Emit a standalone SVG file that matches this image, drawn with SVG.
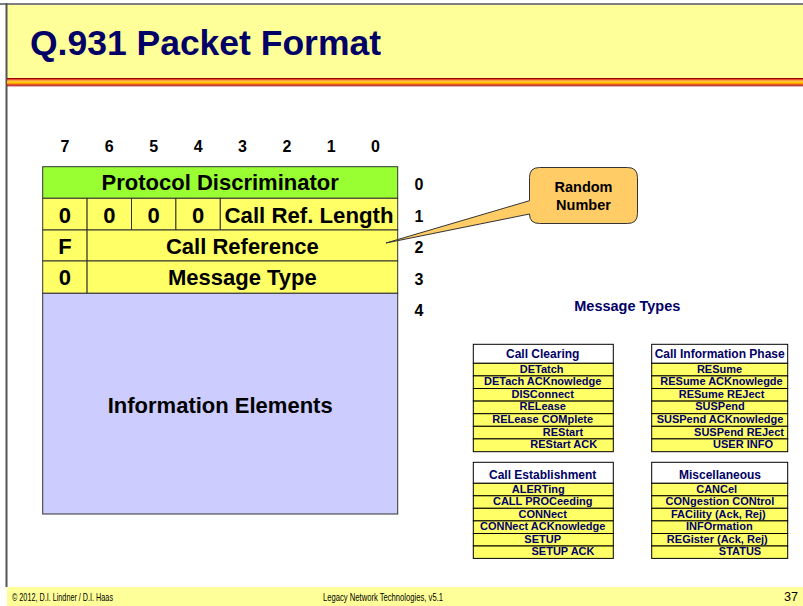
<svg xmlns="http://www.w3.org/2000/svg" width="803" height="606" viewBox="0 0 803 606">
<defs>
<style>
text{font-family:"Liberation Sans",Arial,sans-serif;font-weight:bold;}
.bit{font-size:16px;fill:#000;text-anchor:middle;}
.fld{font-size:22px;fill:#000;text-anchor:middle;}
.cell{stroke:#333;stroke-width:1;}
.grn{fill:#99FF33;}
.yel{fill:#FFFF66;}
.lav{fill:#CCCCFF;}
.mt{font-size:11px;fill:#000066;text-anchor:middle;}
.mh{font-size:12px;fill:#000066;text-anchor:middle;}
.mrow{fill:#FFFF66;stroke:#000;stroke-width:1;}
.mhead{fill:#FFFFFF;stroke:#000;stroke-width:1;}
.foot{font-family:"Liberation Sans",Arial,sans-serif;font-weight:normal;font-size:11px;fill:#000;}
</style>
</defs>

<!-- slide frame -->
<rect x="0" y="0" width="803" height="606" fill="#FFFFFF"/>
<rect x="7" y="5" width="796" height="73" fill="#FFFF99"/>
<line x1="0" y1="4" x2="803" y2="4" stroke="#555" stroke-width="1.5"/>
<line x1="6.5" y1="3" x2="6.5" y2="587" stroke="#555" stroke-width="2"/>
<rect x="7" y="78" width="796" height="1.2" fill="#990000"/>
<rect x="7" y="79.2" width="796" height="1.2" fill="#E03000"/>
<rect x="7" y="80.4" width="796" height="1.3" fill="#FF9900"/>
<rect x="7" y="81.7" width="796" height="1.3" fill="#FFCC00"/>
<rect x="7" y="83" width="796" height="1.2" fill="#FF9900"/>
<rect x="7" y="84.2" width="796" height="1.2" fill="#E03000"/>
<rect x="7" y="85.4" width="796" height="0.9" fill="#990000"/>
<text x="30" y="55" style="font-size:35px;fill:#000066;" textLength="351" lengthAdjust="spacingAndGlyphs">Q.931 Packet Format</text>

<!-- footer -->
<rect x="7" y="587" width="796" height="19" fill="#FFFF99"/>
<text class="foot" x="12" y="601" textLength="101" lengthAdjust="spacingAndGlyphs">© 2012, D.I. Lindner / D.I. Haas</text>
<text class="foot" x="323" y="601" textLength="120" lengthAdjust="spacingAndGlyphs">Legacy Network Technologies, v5.1</text>
<text class="foot" x="784" y="601" style="font-size:13px;" textLength="14" lengthAdjust="spacingAndGlyphs">37</text>

<!-- bit numbers -->
<g id="bit-numbers">
<text class="bit" x="64.9" y="152">7</text>
<text class="bit" x="109.3" y="152">6</text>
<text class="bit" x="153.7" y="152">5</text>
<text class="bit" x="198.1" y="152">4</text>
<text class="bit" x="242.5" y="152">3</text>
<text class="bit" x="286.9" y="152">2</text>
<text class="bit" x="331.3" y="152">1</text>
<text class="bit" x="375.5" y="152">0</text>
</g>

<!-- octet numbers -->
<g id="octet-numbers">
<text class="bit" x="419" y="190">0</text>
<text class="bit" x="419" y="222">1</text>
<text class="bit" x="419" y="253">2</text>
<text class="bit" x="419" y="285">3</text>
<text class="bit" x="419" y="316">4</text>
</g>

<!-- packet fields -->
<g id="protocol-discriminator">
<rect class="cell grn" x="42.7" y="166.7" width="355" height="31.6"/>
<text class="fld" x="220.2" y="190">Protocol Discriminator</text>
</g>
<g id="octet1">
<rect class="cell yel" x="42.7" y="198.3" width="44.4" height="31.7"/>
<rect class="cell yel" x="87.1" y="198.3" width="44.4" height="31.7"/>
<rect class="cell yel" x="131.5" y="198.3" width="44.4" height="31.7"/>
<rect class="cell yel" x="175.9" y="198.3" width="44.4" height="31.7"/>
<rect class="cell yel" x="220.3" y="198.3" width="177.4" height="31.7"/>
<text class="fld" x="64.9" y="222.7">0</text>
<text class="fld" x="109.3" y="222.7">0</text>
<text class="fld" x="153.7" y="222.7">0</text>
<text class="fld" x="198.1" y="222.7">0</text>
<text class="fld" x="309" y="222.7" textLength="169" lengthAdjust="spacingAndGlyphs">Call Ref. Length</text>
</g>
<g id="call-reference">
<rect class="cell yel" x="42.7" y="230" width="44.4" height="31"/>
<rect class="cell yel" x="87.1" y="230" width="310.6" height="31"/>
<text class="fld" x="64.9" y="253.5">F</text>
<text class="fld" x="242.4" y="253.5">Call Reference</text>
</g>
<g id="message-type">
<rect class="cell yel" x="42.7" y="261" width="44.4" height="32.3"/>
<rect class="cell yel" x="87.1" y="261" width="310.6" height="32.3"/>
<text class="fld" x="64.9" y="285">0</text>
<text class="fld" x="242.4" y="285">Message Type</text>
</g>
<g id="information-elements">
<rect class="cell lav" x="42.7" y="293.3" width="355" height="220.7"/>
<text class="fld" x="220.2" y="413">Information Elements</text>
</g>

<!-- callout -->
<g id="random-number">
<path d="M539.5 167.5 H627.5 Q637.5 167.5 637.5 177.5 V213.5 Q637.5 223.5 627.5 223.5 H539.5 Q529.5 223.5 529.5 214 L386 243 L529.5 200.7 V177.5 Q529.5 167.5 539.5 167.5 Z" fill="#FFCC66" stroke="#333" stroke-width="1"/>
<text x="583.5" y="192" style="font-size:14.5px;fill:#000;text-anchor:middle;">Random</text>
<text x="583.5" y="209.5" style="font-size:14.5px;fill:#000;text-anchor:middle;">Number</text>
</g>

<text x="627.3" y="311" style="font-size:14.5px;fill:#000066;text-anchor:middle;">Message Types</text>

<!-- Call Clearing -->
<g id="call-clearing">
<rect class="mhead" x="473.3" y="344.3" width="140" height="19"/>
<text class="mh" x="542.7" y="358.3">Call Clearing</text>
<rect class="mrow" x="473.3" y="363.3" width="140" height="12.6"/>
<rect class="mrow" x="473.3" y="375.9" width="140" height="12.6"/>
<rect class="mrow" x="473.3" y="388.5" width="140" height="12.6"/>
<rect class="mrow" x="473.3" y="401.1" width="140" height="12.6"/>
<rect class="mrow" x="473.3" y="413.7" width="140" height="12.6"/>
<rect class="mrow" x="473.3" y="426.3" width="140" height="12.6"/>
<rect class="mrow" x="473.3" y="438.9" width="140" height="12.8"/>
<text class="mt" x="541.7" y="372.6">DETatch</text>
<text class="mt" x="542.7" y="385.2">DETach ACKnowledge</text>
<text class="mt" x="542.7" y="397.8">DISConnect</text>
<text class="mt" x="542.7" y="410.4">RELease</text>
<text class="mt" x="542.7" y="423">RELease COMplete</text>
<text class="mt" x="563" y="435.6">REStart</text>
<text class="mt" x="563.7" y="448.2">REStart ACK</text>
</g>

<!-- Call Information Phase -->
<g id="call-information-phase">
<rect class="mhead" x="651.7" y="344.3" width="136" height="19"/>
<text class="mh" x="719.7" y="358.3">Call Information Phase</text>
<rect class="mrow" x="651.7" y="363.3" width="136" height="12.6"/>
<rect class="mrow" x="651.7" y="375.9" width="136" height="12.6"/>
<rect class="mrow" x="651.7" y="388.5" width="136" height="12.6"/>
<rect class="mrow" x="651.7" y="401.1" width="136" height="12.6"/>
<rect class="mrow" x="651.7" y="413.7" width="136" height="12.6"/>
<rect class="mrow" x="651.7" y="426.3" width="136" height="12.6"/>
<rect class="mrow" x="651.7" y="438.9" width="136" height="12.8"/>
<text class="mt" x="719.5" y="372.6">RESume</text>
<text class="mt" x="721.5" y="385.2">RESume ACKnowlegde</text>
<text class="mt" x="721.5" y="397.8">RESume REJect</text>
<text class="mt" x="720" y="410.4">SUSPend</text>
<text class="mt" x="720" y="423">SUSPend ACKnowledge</text>
<text class="mt" x="739" y="435.6">SUSPend REJect</text>
<text class="mt" x="743" y="448.2">USER INFO</text>
</g>

<!-- Call Establishment -->
<g id="call-establishment">
<rect class="mhead" x="473.3" y="462.3" width="140" height="21"/>
<text class="mh" x="542.7" y="479">Call Establishment</text>
<rect class="mrow" x="473.3" y="483.3" width="140" height="12.5"/>
<rect class="mrow" x="473.3" y="495.8" width="140" height="12.5"/>
<rect class="mrow" x="473.3" y="508.3" width="140" height="12.6"/>
<rect class="mrow" x="473.3" y="520.9" width="140" height="12.6"/>
<rect class="mrow" x="473.3" y="533.5" width="140" height="12.5"/>
<rect class="mrow" x="473.3" y="546" width="140" height="12.4"/>
<text class="mt" x="538.3" y="492.5">ALERTing</text>
<text class="mt" x="542.7" y="505">CALL PROCeeding</text>
<text class="mt" x="542.7" y="517.6">CONNect</text>
<text class="mt" x="542.7" y="530.2">CONNect ACKnowledge</text>
<text class="mt" x="542.7" y="542.8">SETUP</text>
<text class="mt" x="563" y="555.3">SETUP ACK</text>
</g>

<!-- Miscellaneous -->
<g id="miscellaneous">
<rect class="mhead" x="651.7" y="462.3" width="136" height="21"/>
<text class="mh" x="720" y="479">Miscellaneous</text>
<rect class="mrow" x="651.7" y="483.3" width="136" height="12.5"/>
<rect class="mrow" x="651.7" y="495.8" width="136" height="12.5"/>
<rect class="mrow" x="651.7" y="508.3" width="136" height="12.6"/>
<rect class="mrow" x="651.7" y="520.9" width="136" height="12.6"/>
<rect class="mrow" x="651.7" y="533.5" width="136" height="12.5"/>
<rect class="mrow" x="651.7" y="546" width="136" height="12.4"/>
<text class="mt" x="716.7" y="492.5">CANCel</text>
<text class="mt" x="720" y="505">CONgestion CONtrol</text>
<text class="mt" x="718.3" y="517.6">FACility (Ack, Rej)</text>
<text class="mt" x="719.3" y="530.2">INFOrmation</text>
<text class="mt" x="717.3" y="542.8">REGister (Ack, Rej)</text>
<text class="mt" x="740" y="555.3">STATUS</text>
</g>
</svg>
